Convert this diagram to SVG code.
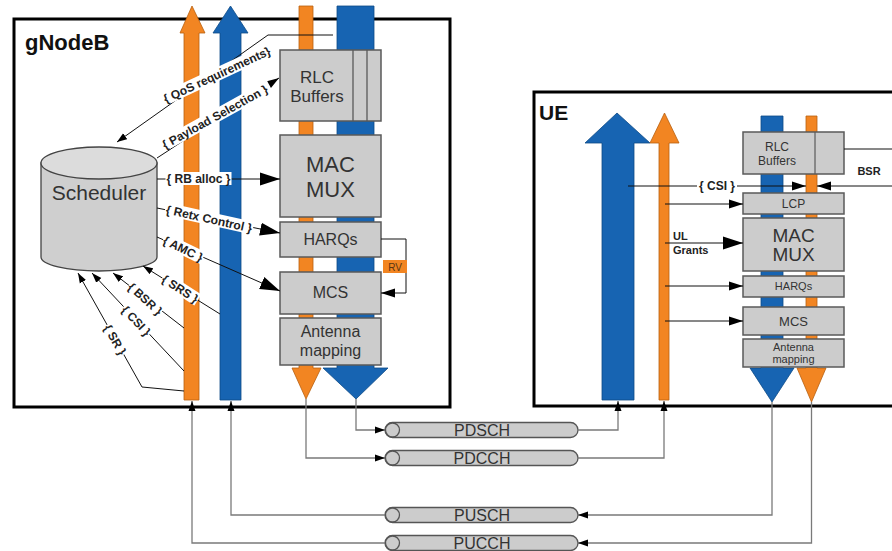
<svg xmlns="http://www.w3.org/2000/svg" width="892" height="551" viewBox="0 0 892 551">
<style>
.frame{fill:none;stroke:#000;stroke-width:3}
.box{fill:#cccccc;stroke:#5a5a5a;stroke-width:1.5}
.or{fill:#f28522;stroke:#b8600f;stroke-width:0.8}
.bl{fill:#1764b2;stroke:#0d4a86;stroke-width:0.8}
.txt{font-family:"Liberation Sans",Arial,sans-serif;fill:#333;text-anchor:middle}
.title{font-family:"Liberation Sans",Arial,sans-serif;font-weight:bold;fill:#111}
.lbl{font-family:"Liberation Sans",Arial,sans-serif;font-weight:bold;font-size:12px;fill:#222;text-anchor:middle}
.lbg{fill:#fff}
.ln{stroke:#111;stroke-width:1;fill:none}
.gl{stroke:#7a7a7a;stroke-width:1.3;fill:none}
.pill{fill:#cccccc;stroke:#555;stroke-width:1.3}
</style>
<defs>
<marker id="aL" markerUnits="userSpaceOnUse" markerWidth="20" markerHeight="14" refX="20" refY="7" orient="auto"><path d="M0,0.5 L20,7 L0,13.5 z" fill="#000"/></marker>
<marker id="aM" markerUnits="userSpaceOnUse" markerWidth="14" markerHeight="10" refX="14" refY="5" orient="auto"><path d="M0,0.5 L14,5 L0,9.5 z" fill="#000"/></marker>
<marker id="aS" markerUnits="userSpaceOnUse" markerWidth="10" markerHeight="8" refX="10" refY="4" orient="auto"><path d="M0,0.5 L10,4 L0,7.5 z" fill="#000"/></marker>
</defs>
<rect width="892" height="551" fill="#fff"/>

<g id="gnodeb">
<rect class="frame" x="14" y="19" width="436" height="388"/>
<text class="title" x="25" y="50" font-size="22">gNodeB</text>
</g>
<g id="ue">
<rect class="frame" x="534" y="92" width="400" height="314"/>
<text class="title" x="539" y="120" font-size="21">UE</text>
</g>

<g id="gnb-flows">
<polygon class="or" points="184,400 184,33 180,33 192,6 205,33 199,33 199,400"/>
<polygon class="bl" points="220,400 220,33 213,33 230.5,6 248,33 241,33 241,400"/>
<polygon class="or" points="299,6 313,6 313,368 321,368 306,399 292,368 299,368"/>
<polygon class="bl" points="337,6 374,6 374,368 388,368 356,399 323,368 337,368"/>
</g>
<g id="ue-flows">
<polygon class="bl" points="602,400 602,143 585,143 617,113 650,143 634,143 634,400"/>
<polygon class="or" points="659,400 659,143 650,143 664.5,113 679,143 669,143 669,400"/>
<polygon class="bl" points="761,116 783,116 783,368 794,368 772,402 750,368 761,368"/>
<polygon class="or" points="806,116 817,116 817,368 826,368 811.5,402 797,368 806,368"/>
</g>

<g id="scheduler">
<path d="M41,163 V257 A58,14 0 0 0 157,257 V163 Z" fill="#cfcfcf" stroke="#444" stroke-width="1.3"/>
<ellipse cx="99" cy="163" rx="58" ry="16" fill="#dcdcdc" stroke="#444" stroke-width="1.3"/>
<text class="txt" x="99" y="200" font-size="21">Scheduler</text>
</g>

<g id="gnb-rlc">
<rect class="box" x="280" y="50" width="101" height="71"/>
<line x1="353" y1="50" x2="353" y2="121" stroke="#5a5a5a" stroke-width="1.3"/>
<line x1="367" y1="50" x2="367" y2="121" stroke="#5a5a5a" stroke-width="1.3"/>
<text class="txt" x="317" y="83" font-size="17">RLC</text>
<text class="txt" x="317" y="102" font-size="17">Buffers</text>
</g>
<g id="gnb-mac">
<rect class="box" x="280" y="135" width="101" height="82"/>
<text class="txt" x="330.5" y="172" font-size="22">MAC</text>
<text class="txt" x="330.5" y="197" font-size="22">MUX</text>
</g>
<g id="gnb-harq">
<rect class="box" x="280" y="222" width="101" height="35"/>
<text class="txt" x="330.5" y="245" font-size="16">HARQs</text>
</g>
<g id="gnb-mcs">
<rect class="box" x="280" y="272" width="101" height="42"/>
<text class="txt" x="330.5" y="298" font-size="16">MCS</text>
</g>
<g id="gnb-ant">
<rect class="box" x="280" y="318" width="101" height="47"/>
<text class="txt" x="330.5" y="337" font-size="16">Antenna</text>
<text class="txt" x="330.5" y="356" font-size="16">mapping</text>
</g>

<g id="ue-rlc">
<rect class="box" x="743" y="132" width="101" height="42"/>
<line x1="815" y1="132" x2="815" y2="174" stroke="#5a5a5a" stroke-width="1.2"/>
<text class="txt" x="777" y="151" font-size="12">RLC</text>
<text class="txt" x="777" y="165" font-size="12">Buffers</text>
</g>
<g id="ue-lcp">
<rect class="box" x="743" y="193" width="101" height="21"/>
<text class="txt" x="793.5" y="208" font-size="12">LCP</text>
</g>
<g id="ue-mac">
<rect class="box" x="743" y="218" width="101" height="53"/>
<text class="txt" x="793.5" y="242" font-size="19">MAC</text>
<text class="txt" x="793.5" y="261" font-size="19">MUX</text>
</g>
<g id="ue-harq">
<rect class="box" x="743" y="276" width="101" height="21"/>
<text class="txt" x="793.5" y="290" font-size="11">HARQs</text>
</g>
<g id="ue-mcs">
<rect class="box" x="743" y="307" width="101" height="28"/>
<text class="txt" x="793.5" y="326" font-size="13">MCS</text>
</g>
<g id="ue-ant">
<rect class="box" x="743" y="339" width="101" height="28"/>
<text class="txt" x="793.5" y="351" font-size="11">Antenna</text>
<text class="txt" x="793.5" y="363" font-size="11">mapping</text>
</g>

<g id="pdsch">
<rect class="pill" x="385" y="422.5" width="193" height="15" rx="7.5"/>
<circle class="pill" cx="392.5" cy="430" r="7"/>
<text class="txt" x="482" y="436" font-size="16">PDSCH</text>
</g>
<g id="pdcch">
<rect class="pill" x="385" y="450.5" width="193" height="15" rx="7.5"/>
<circle class="pill" cx="392.5" cy="458" r="7"/>
<text class="txt" x="482" y="464" font-size="16">PDCCH</text>
</g>
<g id="pusch">
<rect class="pill" x="385" y="507.5" width="193" height="15" rx="7.5"/>
<circle class="pill" cx="392.5" cy="515" r="7"/>
<text class="txt" x="482" y="521" font-size="16">PUSCH</text>
</g>
<g id="pucch">
<rect class="pill" x="385" y="535.5" width="193" height="15" rx="7.5"/>
<circle class="pill" cx="392.5" cy="543" r="7"/>
<text class="txt" x="482" y="548.5" font-size="16">PUCCH</text>
</g>

<g id="connectors">
<path class="ln" d="M333,35 H268 L117,142" marker-end="url(#aS)"/>
<path class="ln" d="M157,158 L279,78" marker-end="url(#aM)"/>
<path class="ln" d="M157,179 H280" marker-end="url(#aL)"/>
<path class="ln" d="M157,208 L280,233" marker-end="url(#aL)"/>
<path class="ln" d="M157,237 L280,291" marker-end="url(#aL)"/>
<path class="ln" d="M220,314 L143,266" marker-end="url(#aS)"/>
<path class="ln" d="M184,328 L113,273" marker-end="url(#aS)"/>
<path class="ln" d="M184,371 L92,273" marker-end="url(#aS)"/>
<path class="ln" d="M184,391 L142,387 L78,273" marker-end="url(#aS)"/>
<path class="ln" d="M381,239 H406 V293 H381" stroke="#555" marker-end="url(#aM)"/>
<path class="ln" d="M628,186 H806" marker-end="url(#aM)"/>
<path class="ln" d="M892,186 H817" marker-end="url(#aM)"/>
<path class="ln" d="M892,149 H844" stroke="#555"/>
<path class="ln" d="M665,204 H743" marker-end="url(#aM)"/>
<path class="ln" d="M665,243 H743" marker-end="url(#aL)"/>
<path class="ln" d="M665,286 H743" marker-end="url(#aM)"/>
<path class="ln" d="M665,321 H743" marker-end="url(#aM)"/>
<path class="gl" d="M356,399 V430 H385" marker-end="url(#aS)"/>
<path class="gl" d="M306,399 V458 H385" marker-end="url(#aS)"/>
<path class="gl" d="M578,430 H618 V401" marker-end="url(#aS)"/>
<path class="gl" d="M578,458 H664 V401" marker-end="url(#aS)"/>
<path class="gl" d="M772,402 V515 H578" marker-end="url(#aS)"/>
<path class="gl" d="M811.5,402 V543 H578" marker-end="url(#aS)"/>
<path class="gl" d="M385,515 H231 V401" marker-end="url(#aS)"/>
<path class="gl" d="M385,543 H192 V401" marker-end="url(#aS)"/>
</g>

<g id="labels">
<g transform="translate(217,75) rotate(-25)"><rect class="lbg" x="-62" y="-7" width="124" height="13"/><text class="lbl" y="4">{ QoS requirements}</text></g>
<g transform="translate(215,117) rotate(-29)"><rect class="lbg" x="-63" y="-7" width="126" height="13"/><text class="lbl" y="4">{ Payload Selection }</text></g>
<g transform="translate(198.5,179)"><rect class="lbg" x="-33" y="-7" width="66" height="13"/><text class="lbl" y="4">{ RB alloc }</text></g>
<g transform="translate(209,219) rotate(12.5)"><rect class="lbg" x="-45" y="-7" width="90" height="13"/><text class="lbl" y="4">{ Retx Control }</text></g>
<g transform="translate(183,249) rotate(26)"><rect class="lbg" x="-22" y="-7" width="44" height="13"/><text class="lbl" y="4">{ AMC }</text></g>
<g transform="translate(180,289) rotate(33)"><rect class="lbg" x="-21" y="-7" width="42" height="13"/><text class="lbl" y="4">{ SRS }</text></g>
<g transform="translate(145,299) rotate(42)"><rect class="lbg" x="-21" y="-7" width="42" height="13"/><text class="lbl" y="4">{ BSR }</text></g>
<g transform="translate(136,321) rotate(47)"><rect class="lbg" x="-19" y="-7" width="38" height="13"/><text class="lbl" y="4">{ CSI }</text></g>
<g transform="translate(115,340) rotate(60)"><rect class="lbg" x="-17" y="-7" width="34" height="13"/><text class="lbl" y="4">{ SR }</text></g>
<g transform="translate(717,186)"><rect class="lbg" x="-20" y="-7" width="40" height="13"/><text class="lbl" y="4">{ CSI }</text></g>
<rect x="383" y="260" width="24" height="13" fill="#f28522"/>
<text class="txt" x="395" y="270.5" font-size="10" style="fill:#5a3512">RV</text>
<text class="lbl" x="869" y="175" style="font-size:11px">BSR</text>
<text class="lbl" x="673" y="240" style="font-size:11px;text-anchor:start">UL</text>
<text class="lbl" x="673" y="254" style="font-size:11px;text-anchor:start">Grants</text>
</g>
</svg>
